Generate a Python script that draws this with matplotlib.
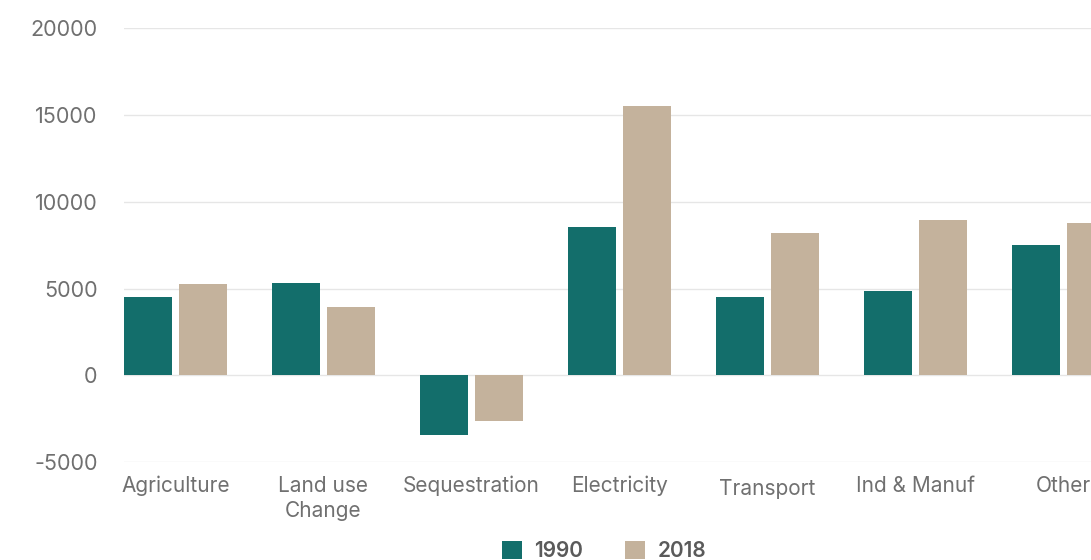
import matplotlib
matplotlib.use("Agg")
import matplotlib.pyplot as plt
import matplotlib.transforms as mtransforms
import numpy as np

plt.rcParams['font.family'] = ['Inter', 'DejaVu Sans']

categories = ['Agriculture', 'Land use\nChange', 'Sequestration', 'Electricity',
              'Transport', 'Ind & Manuf', 'Other']
values_1990 = [4520, 5300, -3430, 8550, 4520, 4870, 7520]
values_2018 = [5270, 3950, -2660, 15520, 8210, 8960, 8790]
series_labels = ['1990', '2018']
y_ticks = [-5000, 0, 5000, 10000, 15000, 20000]

teal = '#136e6b'
tan = '#c4b29c'
grid_col = '#e6e6e6'
text_col = '#707070'

fig = plt.figure(figsize=(10.91, 5.6), dpi=100)
ax = fig.add_axes([124 / 1091, 98 / 560, 967 / 1091, 433.7 / 560])

x = np.arange(len(categories))
w = 0.324
off = 0.186
ax.bar(x - off, values_1990, width=w, color=teal, label=series_labels[0], zorder=3)
ax.bar(x + off, values_2018, width=w, color=tan, label=series_labels[1], zorder=3)

ax.set_xlim(-0.348, 6.186)
ax.set_ylim(-5000, 20000)
ax.set_yticks(y_ticks)
ax.set_yticklabels([str(v) for v in y_ticks])
ax.grid(axis='y', color=grid_col, linewidth=1, zorder=0)
ax.set_axisbelow(True)
for s in ax.spines.values():
    s.set_visible(False)

ax.set_xticks(x)
ax.set_xticklabels(categories, fontsize=15, color=text_col, linespacing=1.3)
ax.tick_params(axis='x', length=0, pad=10)
ax.tick_params(axis='y', length=0, pad=19, labelsize=15.5, labelcolor=text_col)

# Transport sits a little lower in the original
lbl = ax.get_xticklabels()[4]
lbl.set_transform(lbl.get_transform() + mtransforms.ScaledTranslation(0, -3 / 100, fig.dpi_scale_trans))

leg = fig.legend(loc='center', bbox_to_anchor=(604 / 1091, 9 / 560), ncol=2,
                 frameon=False, handlelength=0.96, handleheight=0.96,
                 handletextpad=0.58, columnspacing=2.05, borderpad=0,
                 prop={'size': 15, 'weight': 'semibold'})
for t in leg.get_texts():
    t.set_color('#5a5a5a')

fig.savefig('out.png', dpi=100)
